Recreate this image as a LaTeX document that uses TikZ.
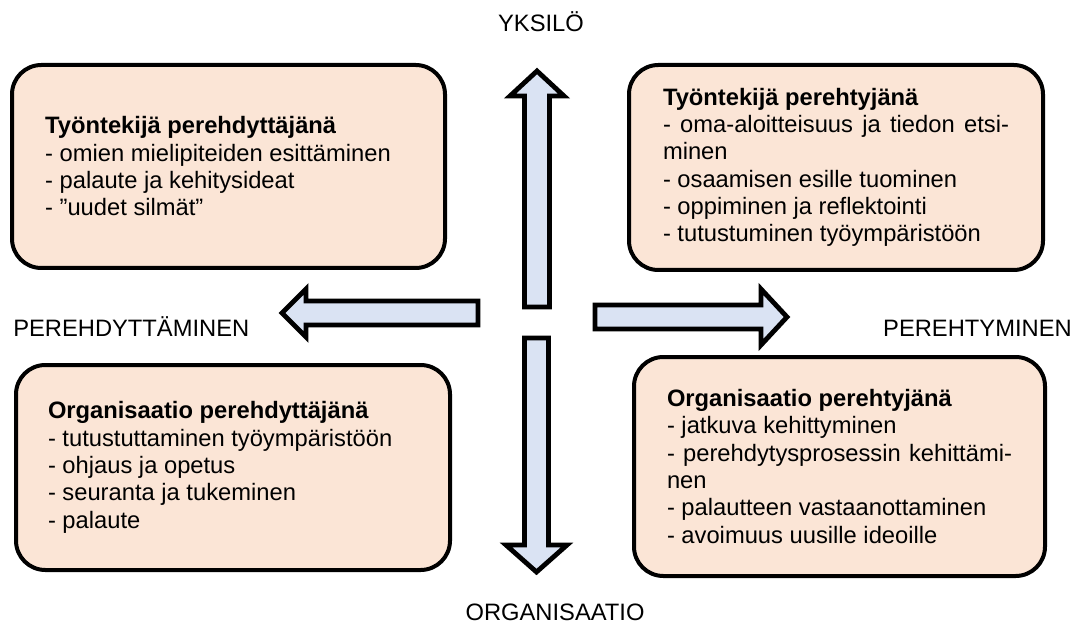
\documentclass[tikz,border=0pt]{standalone}
\usepackage{fontspec}
\setmainfont{Liberation Sans}
\usepackage{tikz}
\usetikzlibrary{positioning}
\definecolor{peach}{HTML}{FBE5D6}
\definecolor{paleblue}{HTML}{DAE3F3}
\setlength{\parindent}{0pt}

\begin{document}
\begin{tikzpicture}[x=0.75pt, y=-0.75pt,
    quadbox/.style ={draw=black, line width=3pt, fill=peach, rounded corners=22pt,
                     align=justify, inner ysep=0pt,
                     font=\fontsize{17.8}{20.5}\selectfont},
    blockarr/.style={draw=black, line width=3.6pt, fill=paleblue, line join=miter},
    axislabel/.style={font=\fontsize{17.8}{20.5}\selectfont, inner sep=0pt}
  ]
    \useasboundingbox (0,0) rectangle (1079,624);

    % --- four quadrants ---
    \node[quadbox, minimum width=324.75pt, minimum height=152.25pt,
          text width=275pt, inner xsep=24.75pt] (tyoPer) at (228.5,166.5)
      {\textbf{Työntekijä perehdyttäjänä}\\
       - omien mielipiteiden esittäminen\\
       - palaute ja kehitysideat\\
       - ”uudet silmät”};
    \node[quadbox, minimum width=310.5pt, minimum height=153.75pt,
          text width=259.5pt, inner xsep=25.5pt] (tyoHty) at (836,167.5)
      {\textbf{Työntekijä perehtyjänä}\\
       - oma-aloitteisuus ja tiedon etsi-\linebreak minen\\
       - osaamisen esille tuominen\\
       - oppiminen ja reflektointi\\
       - tutustuminen työympäristöön};
    \node[quadbox, minimum width=325.5pt, minimum height=153.75pt,
          text width=277.5pt, inner xsep=24pt] (orgPer) at (233,467.5)
      {\textbf{Organisaatio perehdyttäjänä}\\
       - tutustuttaminen työympäristöön\\
       - ohjaus ja opetus\\
       - seuranta ja tukeminen\\
       - palaute};
    \node[quadbox, minimum width=308.25pt, minimum height=164.25pt,
          text width=258.75pt, inner xsep=24.75pt] (orgHty) at (839.5,466.5)
      {\textbf{Organisaatio perehtyjänä}\\
       - jatkuva kehittyminen\\
       - perehdytysprosessin kehittämi-\linebreak nen\\
       - palautteen vastaanottaminen\\
       - avoimuus uusille ideoille};

    % --- block arrows ---
    \draw[blockarr] (524.5,307) -- (524.5,96) -- (510,96) -- (537,71)
      -- (564,96) -- (549.5,96) -- (549.5,307) -- cycle;
    \draw[blockarr] (524.5,338) -- (548.5,338) -- (548.5,545) -- (567,545)
      -- (536.5,572) -- (506,545) -- (524.5,545) -- cycle;
    \draw[blockarr] (478,301) -- (478,325) -- (306,325) -- (306,337)
      -- (282,313) -- (306,289) -- (306,301) -- cycle;
    \draw[blockarr] (595,305) -- (761,305) -- (761,289) -- (787,317)
      -- (761,345) -- (761,329) -- (595,329) -- cycle;

    % --- axis labels ---
    \node[axislabel, anchor=base] (yksilo) at (541,32) {YKSILÖ};
    \node[axislabel, anchor=base] (organisaatio) at (555,620) {ORGANISAATIO};
    \node[axislabel, anchor=base west] (perehdyttaminen) at (13,336) {PEREHDYTTÄMINEN};
    \node[axislabel, anchor=base east] (perehtyminen) at (1072,336) {PEREHTYMINEN};
  \end{tikzpicture}
\end{document}
